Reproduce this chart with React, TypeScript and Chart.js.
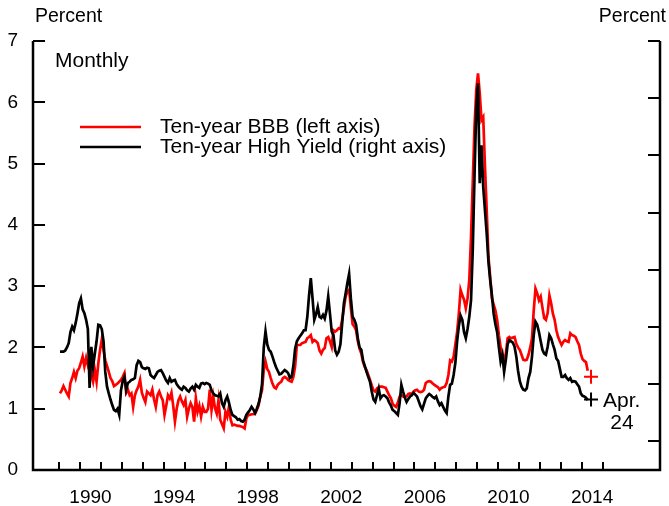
import React, { useEffect, useRef } from 'react';
import { Chart, registerables } from 'chart.js';

Chart.register(...registerables);

// Monthly spreads, January 1989 through April 2014 (percentage points)
const START_YEAR = 1989;

const bbbSpread: number[] = [
  1.25, 1.30, 1.37, 1.31, 1.25, 1.20, 1.42, 1.50, 1.60, 1.50, 1.62, 1.66,
  1.75, 1.85, 1.69, 1.83, 1.71, 1.79, 1.55, 1.44, 1.63, 1.44, 1.74, 1.96,
  2.13, 1.96, 1.79, 1.70, 1.60, 1.50, 1.45, 1.37, 1.39, 1.41, 1.44, 1.47,
  1.52, 1.58, 1.26, 1.31, 1.22, 1.25, 1.03, 1.22, 1.30, 1.36, 1.47, 1.26,
  1.18, 1.11, 1.28, 1.25, 1.22, 1.31, 1.15, 1.03, 1.22, 1.28, 1.20, 1.14,
  0.90, 1.05, 1.22, 1.17, 1.26, 1.05, 0.79, 1.00, 1.14, 1.20, 1.12, 1.06,
  1.14, 0.87, 1.00, 1.09, 1.03, 0.79, 1.17, 0.95, 1.05, 0.87, 1.03, 0.95,
  0.95, 1.00, 1.31, 0.98, 1.20, 1.01, 0.92, 1.14, 0.82, 0.75, 0.68, 0.95,
  0.87, 1.03, 0.82, 0.73, 0.74, 0.73, 0.72, 0.72, 0.71, 0.70, 0.68, 0.84,
  0.90, 0.90, 0.91, 0.91, 0.92, 0.98, 1.05, 1.20, 1.30, 1.63, 1.77, 1.65,
  1.60, 1.50, 1.41, 1.35, 1.33, 1.39, 1.42, 1.44, 1.50, 1.52, 1.50, 1.47,
  1.45, 1.44, 1.52, 1.69, 2.04, 2.04, 2.04, 2.07, 2.08, 2.09, 2.15, 2.17,
  2.20, 2.09, 2.12, 2.10, 2.07, 1.95, 1.90, 1.96, 1.99, 2.15, 2.17, 2.10,
  2.01, 2.28, 2.26, 2.28, 2.31, 2.30, 2.45, 2.64, 2.83, 2.91, 2.94, 2.65,
  2.38, 2.34, 2.28, 2.10, 1.98, 1.90, 1.76, 1.68, 1.63, 1.55, 1.47, 1.38,
  1.30, 1.28, 1.33, 1.35, 1.36, 1.36, 1.35, 1.34, 1.28, 1.22, 1.17, 1.08,
  1.05, 1.03, 1.10, 1.20, 1.22, 1.20, 1.19, 1.20, 1.24, 1.25, 1.24, 1.28,
  1.30, 1.31, 1.28, 1.27, 1.28, 1.31, 1.42, 1.44, 1.45, 1.44, 1.41, 1.39,
  1.37, 1.35, 1.31, 1.34, 1.35, 1.36, 1.42, 1.55, 1.79, 1.77, 1.85, 2.05,
  2.25, 2.55, 2.94, 2.85, 2.78, 2.64, 2.80, 3.10, 3.80, 4.70, 5.60, 6.20,
  6.47, 6.15, 5.71, 5.76, 4.95, 4.24, 3.48, 3.15, 2.80, 2.70, 2.60, 2.45,
  2.20, 2.00, 1.90, 1.79, 1.90, 2.15, 2.17, 2.15, 2.16, 2.17, 2.06, 2.00,
  1.96, 1.88, 1.80, 1.79, 1.80, 1.88, 2.00, 2.15, 2.60, 2.96, 2.88, 2.77,
  2.83, 2.65, 2.48, 2.45, 2.56, 2.85, 2.72, 2.55, 2.45, 2.28, 2.17, 2.10,
  2.04, 2.09, 2.12, 2.10, 2.09, 2.23, 2.20, 2.19, 2.17, 2.10, 2.04, 1.90,
  1.81, 1.78, 1.76, 1.62,
];

const highYieldSpread: number[] = [
  1.93, 1.93, 1.93, 1.95, 2.00, 2.07, 2.25, 2.34, 2.28, 2.40, 2.55, 2.72,
  2.80, 2.62, 2.56, 2.45, 2.30, 1.34, 2.01, 1.69, 1.90, 2.10, 2.37, 2.36,
  2.30, 2.10, 1.60, 1.36, 1.25, 1.15, 1.06, 0.98, 0.96, 1.00, 0.90, 1.30,
  1.45, 1.52, 1.31, 1.42, 1.44, 1.47, 1.48, 1.50, 1.71, 1.78, 1.76, 1.68,
  1.66, 1.65, 1.67, 1.66, 1.55, 1.52, 1.50, 1.55, 1.60, 1.62, 1.63, 1.58,
  1.52, 1.46, 1.42, 1.50, 1.44, 1.46, 1.47, 1.40, 1.36, 1.33, 1.31, 1.36,
  1.34, 1.30, 1.28, 1.33, 1.36, 1.31, 1.39, 1.36, 1.34, 1.41, 1.42, 1.40,
  1.42, 1.41, 1.39, 1.30, 1.25, 1.22, 1.21, 1.20, 1.25, 1.09, 1.03, 1.14,
  1.20, 1.10, 0.98, 0.90, 0.88, 0.86, 0.82, 0.83, 0.80, 0.79, 0.82, 0.90,
  0.94, 0.98, 1.03, 0.99, 0.93, 1.00, 1.08, 1.20, 1.40, 2.00, 2.26, 2.05,
  1.96, 1.93, 1.85, 1.76, 1.68, 1.62, 1.56, 1.57, 1.60, 1.63, 1.61, 1.58,
  1.50, 1.52, 1.70, 1.98, 2.10, 2.15, 2.19, 2.23, 2.28, 2.28, 2.50, 2.85,
  3.13, 2.80, 2.45, 2.54, 2.66, 2.50, 2.48, 2.53, 2.47, 2.60, 2.83, 2.55,
  2.26, 2.20, 1.95, 1.88, 1.93, 2.05, 2.39, 2.72, 2.88, 3.05, 3.20, 2.80,
  2.50, 2.45, 2.37, 2.15, 2.00, 1.96, 1.79, 1.70, 1.60, 1.52, 1.44, 1.28,
  1.15, 1.11, 1.22, 1.33, 1.17, 1.21, 1.22, 1.20, 1.17, 1.10, 1.05, 0.98,
  0.96, 0.93, 0.90, 1.09, 1.39, 1.28, 1.18, 1.11, 1.16, 1.20, 1.22, 1.26,
  1.23, 1.20, 1.12, 1.04, 0.99, 1.08, 1.17, 1.21, 1.24, 1.22, 1.19, 1.17,
  1.20, 1.12, 1.06, 1.09, 1.03, 0.97, 0.93, 1.20, 1.39, 1.41, 1.55, 1.75,
  2.10, 2.35, 2.52, 2.45, 2.25, 2.15, 2.30, 2.50, 2.77, 3.60, 4.80, 5.90,
  6.31, 4.68, 5.30, 4.62, 4.24, 3.86, 3.40, 3.10, 2.85, 2.55, 2.38, 2.25,
  2.00, 1.77, 1.88, 1.60, 1.80, 2.05, 2.12, 2.10, 2.08, 2.01, 1.85, 1.62,
  1.45, 1.36, 1.31, 1.30, 1.33, 1.50, 1.60, 1.85, 2.20, 2.42, 2.37, 2.25,
  2.10, 1.96, 1.90, 1.88, 2.01, 2.20, 2.15, 2.05, 1.96, 1.82, 1.78, 1.65,
  1.52, 1.52, 1.55, 1.50, 1.47, 1.50, 1.44, 1.45, 1.44, 1.40, 1.36, 1.25,
  1.21, 1.20, 1.18, 1.14,
];

// Latest daily readings (April 24)
const latestDate = 2014.45;
const latestBbb = 1.52;
const latestHighYield = 1.15;
const latestLabel = ['Apr.', '24'];

const seriesLabels = ['Ten-year BBB (left axis)', 'Ten-year High Yield (right axis)'];
const yearLabels = [1990, 1994, 1998, 2002, 2006, 2010, 2014];
const yearTickRange = [1989, 2015];
const leftTicks = [0, 1, 2, 3, 4, 5, 6, 7];
const rightTicks = [0.5, 1.5, 2.5, 3.5, 4.5, 5.5, 6.5, 7.5];

const FONT = '"Liberation Sans", Arial, Helvetica, sans-serif';
const TICK_SIZE = 19;
const UNIT_SIZE = 19.5;
const NOTE_SIZE = 21;
const RED = '#ff0000';
const BLACK = '#000000';
const LINE_WIDTH = 2.7;

const toPoints = (values: number[]) =>
  values.map((v, i) => ({ x: START_YEAR + (i + 0.5) / 12, y: v }));

// Axis frame with inward tick marks, legend and annotations
const framePlugin = {
  id: 'frame',
  beforeDatasetsDraw(chart: any) {
    const { ctx, chartArea } = chart;
    const { left, right, top, bottom } = chartArea;
    const x = chart.scales.x;
    const y = chart.scales.y;
    const y2 = chart.scales.y2;
    ctx.save();
    ctx.strokeStyle = BLACK;
    ctx.lineWidth = 2.5;
    ctx.lineCap = 'butt';
    ctx.beginPath();
    ctx.moveTo(left, top);
    ctx.lineTo(left, bottom);
    ctx.lineTo(right, bottom);
    ctx.lineTo(right, top);
    ctx.stroke();

    ctx.lineWidth = 2;
    ctx.beginPath();
    for (const v of leftTicks) {
      if (v === 0) continue;
      const py = Math.round(y.getPixelForValue(v));
      ctx.moveTo(left, py);
      ctx.lineTo(left + 12, py);
    }
    for (const v of rightTicks) {
      const py = Math.round(y2.getPixelForValue(v));
      ctx.moveTo(right, py);
      ctx.lineTo(right - 12, py);
    }
    for (let yr = yearTickRange[0]; yr <= yearTickRange[1]; yr++) {
      const px = Math.round(x.getPixelForValue(yr));
      ctx.moveTo(px, bottom);
      ctx.lineTo(px, bottom - 8);
    }
    ctx.stroke();
    ctx.restore();
  },
  afterDraw(chart: any) {
    const { ctx, chartArea } = chart;
    const x = chart.scales.x;
    const y = chart.scales.y;
    ctx.save();
    ctx.fillStyle = BLACK;
    ctx.textBaseline = 'middle';

    ctx.font = `${UNIT_SIZE}px ${FONT}`;
    ctx.textAlign = 'left';
    ctx.fillText('Percent', 35, 17);
    ctx.textAlign = 'right';
    ctx.fillText('Percent', 666, 17);

    ctx.font = `${NOTE_SIZE}px ${FONT}`;
    ctx.textAlign = 'left';
    ctx.fillText('Monthly', chartArea.left + 22, 61);

    // legend
    const legendColors = [RED, BLACK];
    seriesLabels.forEach((label, i) => {
      const ly = 127 + i * 20;
      ctx.strokeStyle = legendColors[i];
      ctx.lineWidth = LINE_WIDTH;
      ctx.beginPath();
      ctx.moveTo(80, ly);
      ctx.lineTo(141, ly);
      ctx.stroke();
      ctx.fillStyle = BLACK;
      ctx.fillText(label, 160, ly);
    });

    // date note beside the latest readings
    const px = x.getPixelForValue(latestDate);
    const py = y.getPixelForValue(latestHighYield);
    ctx.textAlign = 'left';
    ctx.fillText(latestLabel[0], px + 12, py + 2);
    ctx.textAlign = 'center';
    ctx.fillText(latestLabel[1], px + 31, py + 24);
    ctx.restore();
  },
};

export default function App() {
  const canvasRef = useRef<HTMLCanvasElement | null>(null);

  useEffect(() => {
    document.body.style.margin = '0';
    const canvas = canvasRef.current;
    if (!canvas) return;

    const chart = new Chart(canvas, {
      type: 'line',
      data: {
        datasets: [
          {
            label: seriesLabels[1],
            data: toPoints(highYieldSpread),
            borderColor: BLACK,
            borderWidth: LINE_WIDTH,
            pointRadius: 0,
            tension: 0,
            yAxisID: 'y',
            order: 1,
          },
          {
            label: seriesLabels[0],
            data: toPoints(bbbSpread),
            borderColor: RED,
            borderWidth: LINE_WIDTH,
            pointRadius: 0,
            tension: 0,
            yAxisID: 'y',
            order: 2,
          },
          {
            type: 'scatter',
            label: 'latest-high-yield',
            data: [{ x: latestDate, y: latestHighYield }],
            borderColor: BLACK,
            backgroundColor: BLACK,
            pointStyle: 'cross',
            pointRadius: 7,
            borderWidth: 2,
            yAxisID: 'y',
            order: 0,
          },
          {
            type: 'scatter',
            label: 'latest-bbb',
            data: [{ x: latestDate, y: latestBbb }],
            borderColor: RED,
            backgroundColor: RED,
            pointStyle: 'cross',
            pointRadius: 7,
            borderWidth: 2,
            yAxisID: 'y',
            order: 0,
          },
        ],
      } as any,
      options: {
        animation: false,
        responsive: false,
        maintainAspectRatio: false,
        layout: { padding: { top: 41, left: 0, right: 0, bottom: 0 } },
        plugins: {
          legend: { display: false },
          tooltip: { enabled: false },
        },
        scales: {
          x: {
            type: 'linear',
            min: 1987.75,
            max: 2017.75,
            grid: { display: false, drawTicks: false },
            border: { display: false },
            afterBuildTicks: (scale: any) => {
              scale.ticks = yearLabels.map((yr) => ({ value: yr + 0.5 }));
            },
            afterFit: (scale: any) => {
              scale.height = 36;
            },
            ticks: {
              autoSkip: false,
              maxRotation: 0,
              padding: 16,
              color: BLACK,
              font: { family: FONT, size: TICK_SIZE },
              callback: (v: any) => String(Math.floor(Number(v))),
            },
          },
          y: {
            position: 'left',
            min: 0,
            max: 7,
            grid: { display: false, drawTicks: false },
            border: { display: false },
            afterBuildTicks: (scale: any) => {
              scale.ticks = leftTicks.map((v) => ({ value: v }));
            },
            afterFit: (scale: any) => {
              scale.width = 33;
            },
            ticks: {
              padding: 15,
              color: BLACK,
              font: { family: FONT, size: TICK_SIZE },
            },
          },
          y2: {
            position: 'right',
            min: 0,
            max: 7.5,
            grid: { display: false, drawTicks: false },
            border: { display: false },
            afterBuildTicks: (scale: any) => {
              scale.ticks = rightTicks.map((v) => ({ value: v }));
            },
            afterFit: (scale: any) => {
              scale.width = 6;
            },
            ticks: { display: false },
          },
        },
      } as any,
      plugins: [framePlugin],
    });

    return () => chart.destroy();
  }, []);

  return (
    <div style={{ width: 669, height: 506, background: '#ffffff' }}>
      <canvas ref={canvasRef} width={669} height={506} style={{ display: 'block' }} />
    </div>
  );
}
